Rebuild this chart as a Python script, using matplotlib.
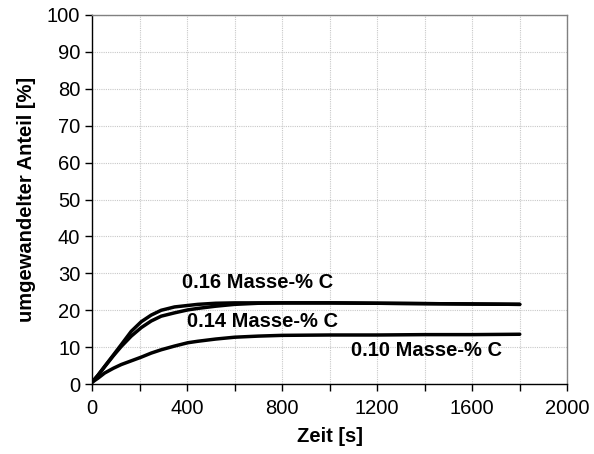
import matplotlib
matplotlib.use("Agg")
import matplotlib.pyplot as plt
from matplotlib.ticker import MultipleLocator

plt.rcParams['font.family'] = ['Liberation Sans', 'DejaVu Sans']

# Zeit [s]
zeit = [0, 25, 53, 90, 123, 165, 207, 249, 291, 347, 403, 445, 520, 600, 700,
        800, 1000, 1200, 1400, 1600, 1800]
# umgewandelter Anteil [%] je Kohlenstoffgehalt
anteil_016 = [0.5, 2.4, 4.8, 7.9, 10.7, 14.3, 16.9, 18.7, 20.0, 20.9, 21.3, 21.6, 21.9,
              22.0, 22.0, 22.0, 22.0, 21.9, 21.8, 21.7, 21.6]
anteil_014 = [0.5, 2.4, 4.7, 7.7, 10.2, 13.0, 15.3, 17.1, 18.4, 19.3, 20.1, 20.5, 21.1,
              21.6, 21.9, 22.0, 22.0, 21.9, 21.8, 21.7, 21.6]
anteil_010 = [0.5, 1.6, 3.0, 4.3, 5.3, 6.3, 7.3, 8.4, 9.3, 10.3, 11.2, 11.6, 12.2,
              12.7, 13.0, 13.2, 13.3, 13.3, 13.4, 13.4, 13.5]

labels = ["0.16 Masse-% C", "0.14 Masse-% C", "0.10 Masse-% C"]
label_pos = [(379, 27.6), (400, 17.0), (1088, 9.0)]

fig = plt.figure(figsize=(5.94, 4.54), dpi=100)
ax = fig.add_axes([0.155, 0.154, 0.800, 0.813])

for y in (anteil_016, anteil_014, anteil_010):
    ax.plot(zeit, y, color='black', lw=2.5, solid_capstyle='round',
            solid_joinstyle='round', zorder=3)

for txt, (x, y) in zip(labels, label_pos):
    ax.text(x, y, txt, fontsize=14.5, fontweight='bold', ha='left', va='center', zorder=4)

ax.set_xlim(0, 2000)
ax.set_ylim(0, 100)
ax.xaxis.set_major_locator(MultipleLocator(400))
ax.xaxis.set_minor_locator(MultipleLocator(200))
ax.yaxis.set_major_locator(MultipleLocator(10))

ax.grid(True, which='both', color='#c8c8c8', linestyle=(0, (1, 1)), lw=0.8, zorder=0)
ax.set_axisbelow(True)

ax.tick_params(axis='both', which='both', direction='out', length=5, width=1, labelsize=14.5)
ax.tick_params(axis='x', which='minor', length=5)
ax.tick_params(axis='x', pad=6)

for side in ('top', 'right'):
    ax.spines[side].set_color('#808080')
    ax.spines[side].set_linewidth(1.0)
for side in ('left', 'bottom'):
    ax.spines[side].set_color('black')
    ax.spines[side].set_linewidth(1.0)

ax.set_xlabel('Zeit [s]', fontsize=14.5, fontweight='bold', labelpad=6)
ax.set_ylabel('umgewandelter Anteil [%]', fontsize=14.5, fontweight='bold', labelpad=8)

fig.savefig('out.png', dpi=100)
